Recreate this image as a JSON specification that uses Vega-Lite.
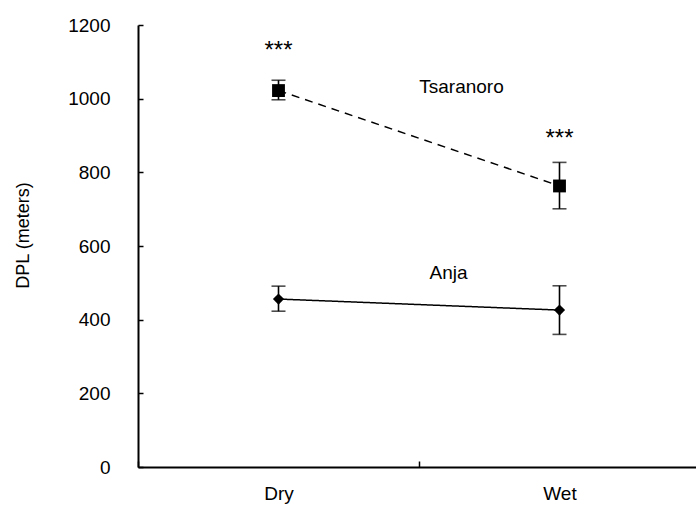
{
  "$schema": "https://vega.github.io/schema/vega-lite/v6.json",
  "width": 558,
  "height": 442,
  "autosize": {"type": "none"},
  "padding": {"left": 138, "top": 25, "right": 0, "bottom": 39},
  "background": "white",
  "config": {"font": "Liberation Sans", "view": {"stroke": null}},
  "datasets": {
    "means": [
      {"site": "Tsaranoro", "season": "Dry", "dpl": 1022, "lo": 997, "hi": 1050},
      {"site": "Tsaranoro", "season": "Wet", "dpl": 763, "lo": 701, "hi": 827},
      {"site": "Anja", "season": "Dry", "dpl": 456, "lo": 423, "hi": 491},
      {"site": "Anja", "season": "Wet", "dpl": 426, "lo": 360, "hi": 492}
    ],
    "stars": [
      {"season": "Dry", "y": 1130, "label": "***"},
      {"season": "Wet", "y": 890, "label": "***"}
    ],
    "tsaranoro": [
      {"season": "Wet", "y": 1032, "label": "Tsaranoro"}
    ],
    "anja": [
      {"season": "Wet", "y": 527, "label": "Anja"}
    ]
  },
  "encoding": {
    "x": {
      "field": "season",
      "type": "nominal",
      "scale": {"domain": ["Dry", "Wet"], "range": [0, 562], "paddingInner": 0, "paddingOuter": 0},
      "axis": {
        "title": null,
        "labelAngle": 0,
        "labelFontSize": 19,
        "labelColor": "black",
        "labelPadding": 23,
        "tickBand": "extent",
        "tickSize": -6,
        "tickWidth": 1.5,
        "tickColor": "black",
        "domainColor": "black",
        "domainWidth": 2,
        "grid": false
      }
    }
  },
  "layer": [
    {
      "data": {"name": "means"},
      "mark": {"type": "rule", "stroke": "black", "strokeWidth": 1.6},
      "encoding": {
        "y": {
          "field": "lo",
          "type": "quantitative",
          "scale": {"domain": [0, 1200], "nice": false},
          "axis": {
            "title": "DPL (meters)",
            "titleFontSize": 18,
            "titleFontWeight": "normal",
            "titleColor": "black",
            "titlePadding": 35,
            "titleY": 210,
            "values": [0, 200, 400, 600, 800, 1000, 1200],
            "format": "d",
            "labelFontSize": 19,
            "labelColor": "black",
            "labelPadding": 33,
            "tickSize": -5,
            "tickWidth": 1.5,
            "tickColor": "black",
            "domainColor": "black",
            "domainWidth": 2,
            "grid": false
          }
        },
        "y2": {"field": "hi"}
      }
    },
    {
      "data": {"name": "means"},
      "mark": {"type": "tick", "color": "black", "size": 14, "thickness": 1.6, "orient": "horizontal"},
      "encoding": {"y": {"field": "lo", "type": "quantitative"}}
    },
    {
      "data": {"name": "means"},
      "mark": {"type": "tick", "color": "black", "size": 14, "thickness": 1.6, "orient": "horizontal"},
      "encoding": {"y": {"field": "hi", "type": "quantitative"}}
    },
    {
      "data": {"name": "means"},
      "mark": {"type": "line", "color": "black", "strokeWidth": 1.5},
      "encoding": {
        "y": {"field": "dpl", "type": "quantitative"},
        "detail": {"field": "site"},
        "strokeDash": {
          "field": "site",
          "type": "nominal",
          "scale": {"domain": ["Tsaranoro", "Anja"], "range": [[8, 6], [1, 0]]},
          "legend": null
        }
      }
    },
    {
      "data": {"name": "means"},
      "mark": {"type": "point", "filled": true, "color": "black", "opacity": 1},
      "encoding": {
        "y": {"field": "dpl", "type": "quantitative"},
        "shape": {
          "field": "site",
          "type": "nominal",
          "scale": {"domain": ["Tsaranoro", "Anja"], "range": ["square", "diamond"]},
          "legend": null
        },
        "size": {
          "field": "site",
          "type": "nominal",
          "scale": {"domain": ["Tsaranoro", "Anja"], "range": [165, 125]},
          "legend": null
        }
      }
    },
    {
      "data": {"name": "stars"},
      "mark": {"type": "text", "fontSize": 24, "color": "black", "baseline": "middle"},
      "encoding": {
        "y": {"field": "y", "type": "quantitative"},
        "text": {"field": "label"}
      }
    },
    {
      "data": {"name": "tsaranoro"},
      "mark": {"type": "text", "fontSize": 19, "color": "black", "baseline": "middle", "dx": -98},
      "encoding": {
        "y": {"field": "y", "type": "quantitative"},
        "text": {"field": "label"}
      }
    },
    {
      "data": {"name": "anja"},
      "mark": {"type": "text", "fontSize": 19, "color": "black", "baseline": "middle", "dx": -111},
      "encoding": {
        "y": {"field": "y", "type": "quantitative"},
        "text": {"field": "label"}
      }
    }
  ]
}
